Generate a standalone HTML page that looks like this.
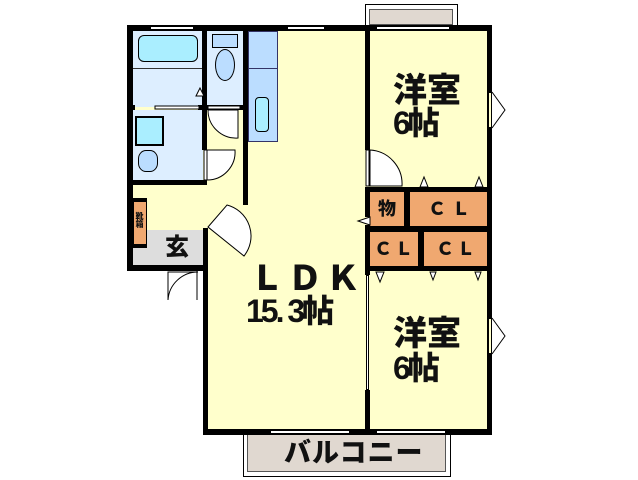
<!DOCTYPE html><html><head><meta charset="utf-8"><style>
body{margin:0;width:638px;height:480px;background:#fff;position:relative;overflow:hidden;font-family:"Liberation Sans","Noto Sans CJK JP",sans-serif;}
div{position:absolute;box-sizing:border-box}
.w{background:#000}
.t{font-weight:900;color:#111;white-space:nowrap;line-height:1}
svg{position:absolute;left:0;top:0}
</style></head><body>
<div style="left:365px;top:4px;width:93px;height:24px;border:1px solid #000;background:#fff"></div>
<div style="left:369px;top:9px;width:84px;height:16px;background:#e0d8d0;border:1px solid #555"></div>
<div style="left:243px;top:432px;width:208px;height:45px;border:1px solid #000;background:#fff"></div>
<div style="left:247px;top:434px;width:199px;height:38px;background:#e0d8d0;border:1px solid #555"></div>
<div style="left:127px;top:25px;width:365px;height:245px;background:#ffffcc"></div>
<div style="left:203px;top:265px;width:289px;height:170px;background:#ffffcc"></div>
<div style="left:133px;top:31px;width:70px;height:76px;background:#ddeeff"></div>
<div style="left:133px;top:110px;width:70px;height:72px;background:#ddeeff"></div>
<div style="left:207px;top:31px;width:36px;height:76px;background:#ddeeff"></div>
<div style="left:248px;top:31px;width:30px;height:111px;background:#bbddff;border:1px solid #336"></div>
<div style="left:248px;top:68px;width:30px;height:1px;background:#336"></div>
<div style="left:255px;top:97px;width:14px;height:35px;background:#aaeeff;border:1px solid #000;border-radius:4px"></div>
<div style="left:138px;top:35px;width:60px;height:27px;background:#aaeeff;border:1px solid #000;border-radius:6px"></div>
<div style="left:133px;top:68px;width:70px;height:1px;background:#333"></div>
<div style="left:212px;top:34px;width:26px;height:14px;background:#bbddff;border:1px solid #000"></div>
<div style="left:215px;top:49px;width:20px;height:32px;background:#bbddff;border:1px solid #000;border-radius:50%"></div>
<div style="left:135px;top:116px;width:29px;height:30px;background:#aaeeff;border:2px double #000"></div>
<div style="left:138px;top:150px;width:20px;height:22px;background:#bbddff;border:1px solid #000;border-radius:40%"></div>
<div style="left:133px;top:230px;width:72px;height:40px;background:#dddddd"></div>
<div style="left:133px;top:201px;width:14px;height:44px;background:#f0a870;border:1px solid #000"></div>
<div style="left:370px;top:192px;width:34px;height:34px;background:#f0a870"></div>
<div style="left:410px;top:192px;width:77px;height:34px;background:#f0a870"></div>
<div style="left:370px;top:232px;width:48px;height:34px;background:#f0a870"></div>
<div style="left:424px;top:232px;width:63px;height:34px;background:#f0a870"></div>
<!-- walls -->
<div class="w" style="left:127px;top:25px;width:365px;height:6px"></div>
<div class="w" style="left:127px;top:25px;width:6px;height:245px"></div>
<div class="w" style="left:127px;top:265px;width:81px;height:6px"></div>
<div class="w" style="left:203px;top:228px;width:5px;height:207px"></div>
<div class="w" style="left:203px;top:429px;width:289px;height:6px"></div>
<div class="w" style="left:487px;top:25px;width:5px;height:410px"></div>
<div class="w" style="left:202px;top:25px;width:5px;height:125px"></div>
<div class="w" style="left:243px;top:25px;width:5px;height:180px"></div>
<div class="w" style="left:127px;top:105px;width:8px;height:5px"></div>
<div class="w" style="left:198px;top:105px;width:50px;height:5px"></div>
<div class="w" style="left:127px;top:180px;width:80px;height:5px"></div>
<div class="w" style="left:365px;top:25px;width:5px;height:125px"></div>
<div class="w" style="left:365px;top:187px;width:5px;height:30px"></div>
<div class="w" style="left:365px;top:225px;width:5px;height:50px"></div>
<div class="w" style="left:365px;top:390px;width:5px;height:45px"></div>
<div class="w" style="left:365px;top:187px;width:127px;height:5px"></div>
<div class="w" style="left:365px;top:226px;width:127px;height:6px"></div>
<div class="w" style="left:365px;top:266px;width:127px;height:5px"></div>
<div class="w" style="left:404px;top:190px;width:6px;height:38px"></div>
<div class="w" style="left:418px;top:230px;width:6px;height:38px"></div>
<div class="w" style="left:127px;top:198px;width:20px;height:3px"></div>
<div class="w" style="left:127px;top:245px;width:20px;height:3px"></div>
<!-- windows -->
<div style="left:150px;top:26px;width:44px;height:4px;background:#fff;border:1px solid #000"></div>
<div style="left:287px;top:26px;width:38px;height:4px;background:#fff;border:1px solid #000"></div>
<div style="left:376px;top:26px;width:74px;height:4px;background:#fff;border:1px solid #000"></div>
<div style="left:270px;top:430px;width:80px;height:4px;background:#fff;border:1px solid #000"></div>
<div style="left:376px;top:430px;width:70px;height:4px;background:#fff;border:1px solid #000"></div>
<div style="left:488px;top:92px;width:4px;height:36px;background:#ffffcc;border:1px solid #000"></div>
<div style="left:488px;top:318px;width:4px;height:36px;background:#ffffcc;border:1px solid #000"></div>
<div style="left:366px;top:275px;width:3px;height:115px;background:#fff;border:1px solid #000"></div>
<svg width="638" height="480" fill="#fff" stroke="#000" stroke-width="1">
<rect x="155" y="106" width="44" height="3"/>
<rect x="208" y="106" width="32" height="3"/>
<path d="M208 110 L238 110 L238 138 A28 28 0 0 1 208 110Z"/>
<path d="M204 150 L204 180 L207 180 L207 150Z"/>
<path d="M207 150 L235 150 A28 28 0 0 1 207 180Z"/>
<path d="M208 227 L227 205 A32 32 0 0 1 244 256Z"/>
<path d="M366 150 L366 186 L369 186 L369 150Z"/>
<path d="M370 150 A34 34 0 0 1 402 186 L370 186Z"/>
<path d="M370 217 L370 225 L358 221Z"/>
<path d="M168 272 L168 300 A30 30 0 0 1 198 272Z" fill="none"/>
<path d="M197 271 L197 300" />
<path d="M492 92 L505 110 L492 128" fill="none"/>
<path d="M492 318 L505 336 L492 354" fill="none"/>
<path d="M420 187 L424 177 L428 187Z"/><path d="M475 187 L479 177 L483 187Z"/>
<path d="M376 272 L380 282 L384 272Z"/><path d="M430 272 L433 280 L436 272Z"/><path d="M475 272 L478 280 L481 272Z"/>
<path d="M196 96 L200 88 L204 96Z"/>
</svg>
<!-- labels -->
<div class="t" style="left:393px;top:74px;font-size:34px">洋室</div>
<div class="t" style="left:393px;top:107px;font-size:32px;letter-spacing:-3px">6帖</div>
<div class="t" style="left:393px;top:317px;font-size:34px">洋室</div>
<div class="t" style="left:393px;top:352px;font-size:32px;letter-spacing:-3px">6帖</div>
<div class="t" style="left:250px;top:262px;font-size:34px;letter-spacing:4px">ＬＤＫ</div>
<div class="t" style="left:246px;top:295px;font-size:32px;letter-spacing:-3px">15. 3帖</div>
<div class="t" style="left:378px;top:200px;font-size:18px">物</div>
<div class="t" style="left:428px;top:200px;font-size:18px;letter-spacing:6px">ＣＬ</div>
<div class="t" style="left:374px;top:240px;font-size:18px;letter-spacing:3px">ＣＬ</div>
<div class="t" style="left:436px;top:240px;font-size:18px;letter-spacing:3px">ＣＬ</div>
<div class="t" style="left:165px;top:236px;font-size:24px">玄</div>
<div class="t" style="left:135px;top:212px;font-size:8px;writing-mode:vertical-rl">靴箱</div>
<div class="t" style="left:284px;top:440px;font-size:27px;letter-spacing:1px">バルコニー</div>
</body></html>
